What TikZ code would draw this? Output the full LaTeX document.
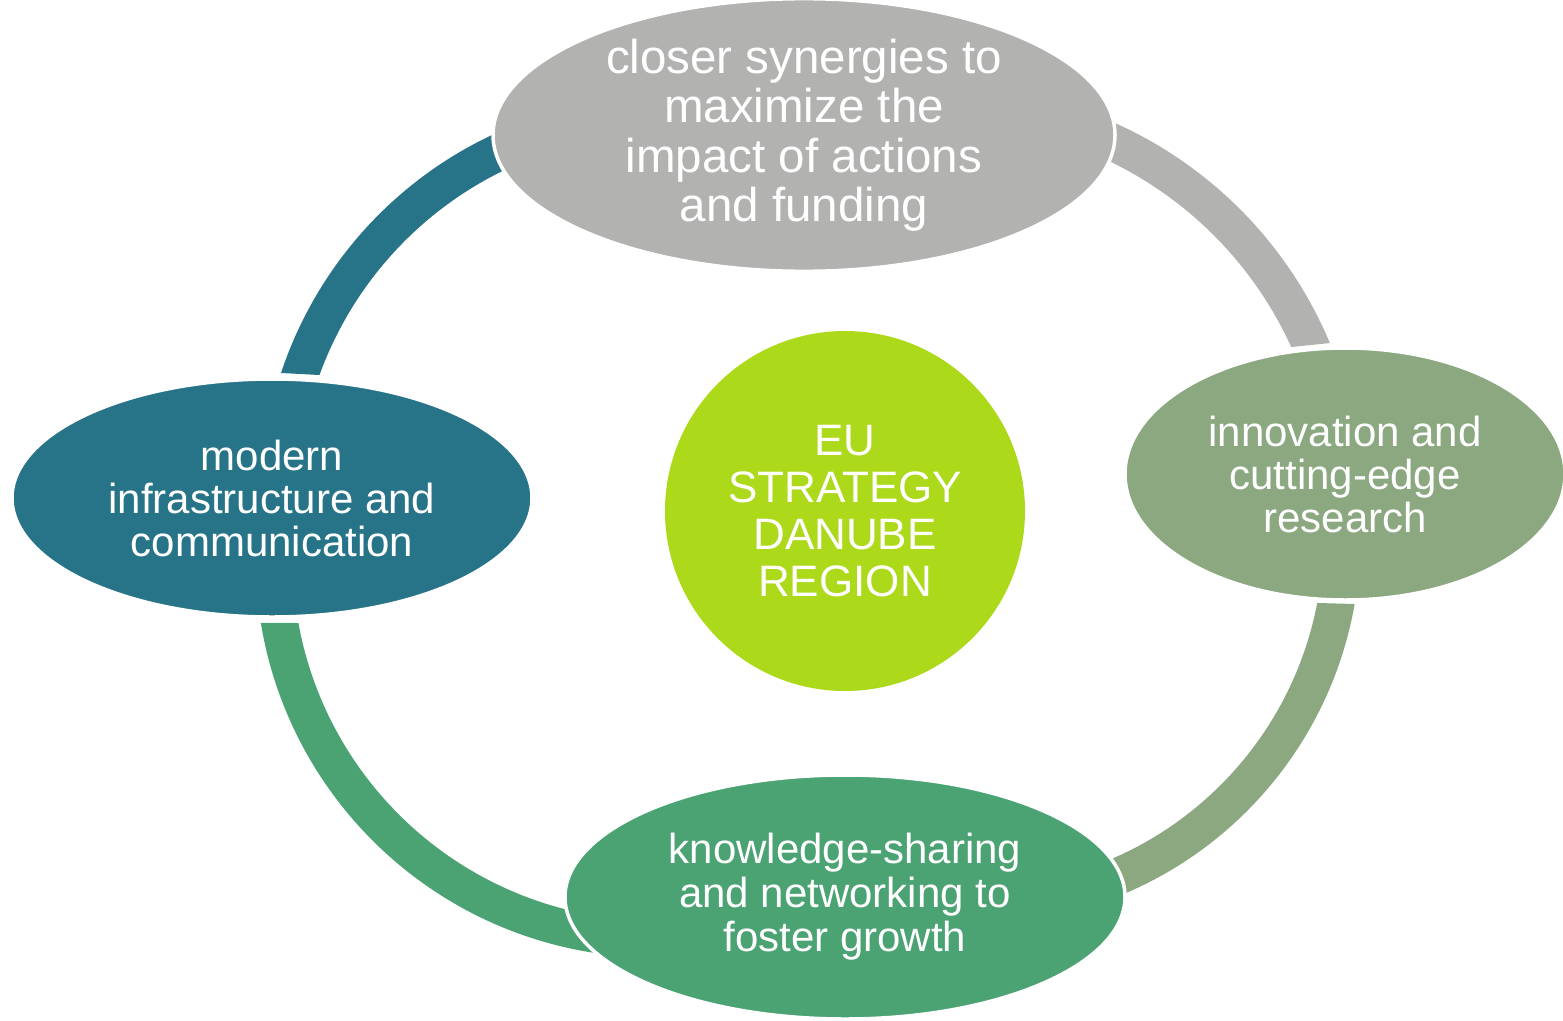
\documentclass[tikz,border=0pt]{standalone}
\usepackage{fontspec}
\setmainfont{Liberation Sans}
\usetikzlibrary{shapes.geometric}
\definecolor{cgrey}{HTML}{B2B2B1}
\definecolor{cteal}{HTML}{277488}
\definecolor{csage}{HTML}{8BA880}
\definecolor{cgreen}{HTML}{4BA373}
\definecolor{clime}{HTML}{ACD91A}
\begin{document}
\begin{tikzpicture}[x=1pt,y=1pt,
  bubble/.style={ellipse, draw=white, line width=3.5pt, inner sep=0pt, text=white, align=center},
  hubstyle/.style={circle, inner sep=0pt, text=white, align=center}]
\useasboundingbox (0,0) rectangle (1563,-1020);
% centres of the connecting bands
\coordinate (c1) at (664,-500);
\coordinate (c2) at (944,-505);
\coordinate (c3) at (973,-537);
\coordinate (c4) at (655,-558);
% bands
\fill[cteal] ([shift={(110:403.5)}]c1) arc[start angle=110, end angle=161.65, radius=403.5]
  -- ([shift={(160.06:366.5)}]c1) arc[start angle=160.06, end angle=110, radius=366.5] -- cycle;
\fill[cgrey] ([shift={(70:418.5)}]c2) arc[start angle=70, end angle=22.77, radius=418.5]
  -- ([shift={(24.46:381.5)}]c2) arc[start angle=24.46, end angle=70, radius=381.5] -- cycle;
\fill[csage] ([shift={(-9.96:387.5)}]c3) arc[start angle=-9.96, end angle=-72, radius=387.5]
  -- ([shift={(-72:350.5)}]c3) arc[start angle=-72, end angle=-10.85, radius=350.5] -- cycle;
\fill[cgreen] ([shift={(189.36:399.5)}]c4) arc[start angle=189.36, end angle=265, radius=399.5]
  -- ([shift={(265:362.5)}]c4) arc[start angle=265, end angle=190.33, radius=362.5] -- cycle;
% ellipses
\node[bubble, fill=cgrey, minimum width=622pt, minimum height=250pt,
  font=\fontsize{47.5}{49.5}\selectfont] (top) at (804,-135)
  {closer synergies to\\maximize the\\impact of actions\\and funding};
\node[bubble, fill=csage, minimum width=440pt, minimum height=252pt,
  font=\fontsize{42}{43}\selectfont] (right) at (1345,-474)
  {innovation and\\cutting-edge\\research};
\node[bubble, fill=cgreen, minimum width=560pt, minimum height=244pt,
  font=\fontsize{42}{44}\selectfont] (bottom) at (845,-897)
  {knowledge-sharing\\and networking to\\foster growth};
\node[bubble, fill=cteal, minimum width=520pt, minimum height=238pt,
  font=\fontsize{42}{43}\selectfont] (left) at (272,-498)
  {modern\\infrastructure and\\communication};
% hub
\node[hubstyle, fill=clime, minimum size=360pt,
  font=\fontsize{44}{47}\selectfont] (hub) at (845,-511)
  {EU\\STRATEGY\\DANUBE\\REGION};
\end{tikzpicture}
\end{document}
